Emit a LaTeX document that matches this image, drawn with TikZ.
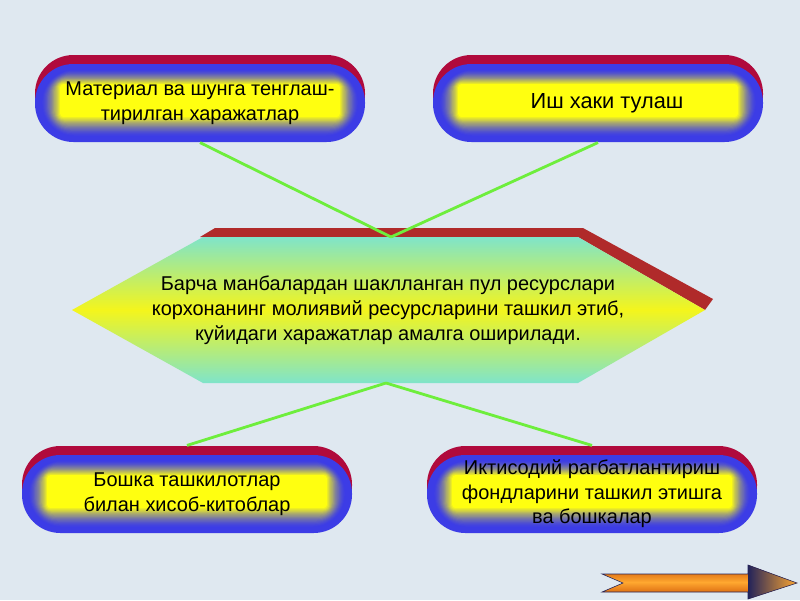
\documentclass[tikz,border=0pt]{standalone}
\usepackage{fontspec}
\setmainfont{Liberation Sans}
\usetikzlibrary{shapes.misc}
\definecolor{bgcol}{HTML}{DFE8F0}
\definecolor{pillblue}{HTML}{3C3CE6}
\definecolor{pillred}{HTML}{B00A3C}
\definecolor{coreyellow}{HTML}{FFFF10}
\definecolor{hexred}{HTML}{B02A2A}
\definecolor{hexcyan}{HTML}{7FE4CA}
\definecolor{hexyellow}{HTML}{F4F51C}
\definecolor{linkgreen}{HTML}{6EEE3C}
\definecolor{arrowdark}{HTML}{C84A00}
\definecolor{arrowlight}{HTML}{FFA830}
\definecolor{arrownavy}{HTML}{23235A}

\begin{document}
\begin{tikzpicture}[x=0.025cm,y=-0.025cm,thick]
  \tikzstyle{pill}=[rounded rectangle,minimum width=8.25cm,minimum height=1.95cm,
    align=center,font=\fontsize{14.2}{17.5}\selectfont]
  \tikzstyle{link}=[draw=linkgreen,line width=2pt]
  \fill[bgcol] (0,0) rectangle (800,600);
  % central block
  \fill[hexred] (200,237)--(215,228)--(583,228)--(713,299)--(705,310)--(578,237)--cycle;
  \shade[top color=hexcyan,bottom color=hexcyan,middle color=hexyellow]
    (72,310)--(203,237)--(578,237)--(705,310)--(578,383)--(203,383)--cycle;
  \node(main) at (388,310) [align=center,font=\fontsize{14.2}{17.8}\selectfont]
    {Барча манбалардан шаклланган пул ресурслари\\корхонанинг молиявий ресурсларини ташкил этиб,\\куйидаги харажатлар амалга оширилади.};
  \coordinate(hex-top) at (391,237);
  \coordinate(hex-bot) at (386,383);
  % pill backgrounds: red rim, blue body, yellow core
  \foreach \cx/\cy in {200/103,598/103,187/494,592/494}{
    \fill[pillred,rounded corners=0.96cm] (\cx-165,\cy-48) rectangle (\cx+165,\cy+30);
    \fill[pillblue,rounded corners=0.96cm] (\cx-165,\cy-39) rectangle (\cx+165,\cy+39);
    \foreach \i in {1,...,16}{
      \pgfmathsetmacro\pct{100*(\i/16)^1.5}
      \pgfmathsetmacro\rr{max(0.075,(34-2*\i)*0.025)}
      \fill[coreyellow!\pct!pillblue,rounded corners=\rr cm]
        (\cx-159+1.2*\i,\cy-34+0.95*\i) rectangle (\cx+159-1.2*\i,\cy+34-1.25*\i);
    }
  }
  % four kinds of spending
  \node(material) at (200,103) [pill]{Материал ва шунга тенглаш-\\тирилган харажатлар};
  \node(wages) at (598,103) [pill]{\hspace*{0.45cm}{\fontsize{15.5}{18}\selectfont Иш хаки тулаш}};
  \node(settle) at (187,494) [pill]{Бошка ташкилотлар\\билан хисоб-китоблар};
  \node(funds) at (592,494) [pill]{Иктисодий рагбатлантириш\\фондларини ташкил этишга\\ва бошкалар};
  \draw[link](material.south)--(hex-top);
  \draw[link](wages.south)--(hex-top);
  \draw[link](hex-bot)--([yshift=0.225cm]settle.north);
  \draw[link](hex-bot)--([yshift=0.225cm]funds.north);
  % next-slide button
  \shade[top color=arrowdark,bottom color=arrowdark,middle color=arrowlight]
    (602,574)--(748,574)--(748,565)--(797,583)--(748,599)--(748,592)--(602,592)--(623,583)--cycle;
  \shade[left color=arrownavy,right color=arrowlight] (748,565)--(797,583)--(748,599)--cycle;
  \draw[arrownavy,thin] (602,574)--(748,574)--(748,565)--(797,583)--(748,599)--(748,592)--(602,592)--(623,583)--cycle;
\end{tikzpicture}
\end{document}
